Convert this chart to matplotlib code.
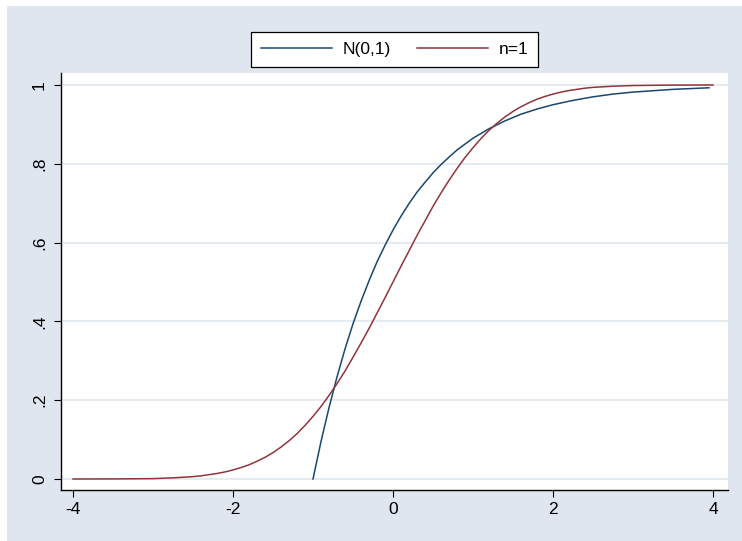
import matplotlib
matplotlib.use("Agg")
from matplotlib import pyplot as plt
from matplotlib.patches import Rectangle

plt.rcParams["font.family"] = ["Liberation Sans", "DejaVu Sans"]

# N(0,1) curve
x_norm = [-1.0, -0.9, -0.8, -0.7, -0.6, -0.5, -0.4, -0.3, -0.2, -0.1, 0.0,
          0.1, 0.2, 0.3, 0.4, 0.5, 0.6, 0.7, 0.8, 0.9, 1.0, 1.2, 1.4, 1.6, 1.8,
          2.0, 2.25, 2.5, 2.75, 3.0, 3.5, 3.95]
y_norm = [0.0, 0.095, 0.181, 0.259, 0.330, 0.394, 0.451, 0.503, 0.551, 0.593, 0.632,
          0.667, 0.699, 0.728, 0.753, 0.777, 0.798, 0.817, 0.835, 0.850, 0.865, 0.889,
          0.909, 0.926, 0.939, 0.950, 0.961, 0.970, 0.977, 0.982, 0.989, 0.993]

# n=1 curve
x_n1 = [-4.0, -3.5, -3.25, -3.0, -2.75, -2.5, -2.4, -2.3, -2.2, -2.1, -2.0, -1.9, -1.8,
        -1.7, -1.6, -1.5, -1.4, -1.3, -1.2, -1.1, -1.0, -0.9, -0.8, -0.7, -0.6, -0.5,
        -0.4, -0.3, -0.2, -0.1, 0.0, 0.1, 0.2, 0.3, 0.4, 0.5, 0.6, 0.7, 0.8, 0.9, 1.0,
        1.1, 1.2, 1.3, 1.4, 1.5, 1.6, 1.7, 1.8, 1.9, 2.0, 2.1, 2.2, 2.3, 2.4, 2.5,
        2.75, 3.0, 3.5, 4.0]
y_n1 = [0.0, 0.0002, 0.0006, 0.001, 0.003, 0.006, 0.008, 0.011, 0.014, 0.018, 0.023, 0.029,
        0.036, 0.045, 0.055, 0.067, 0.081, 0.097, 0.115, 0.136, 0.159, 0.184, 0.212, 0.242,
        0.274, 0.309, 0.345, 0.382, 0.421, 0.460, 0.5, 0.540, 0.579, 0.618, 0.655, 0.692,
        0.726, 0.758, 0.788, 0.816, 0.841, 0.864, 0.885, 0.903, 0.919, 0.933, 0.945, 0.955,
        0.964, 0.971, 0.977, 0.982, 0.986, 0.989, 0.992, 0.994, 0.997, 0.9987, 0.9998, 1.0]

x_ticks = [-4, -2, 0, 2, 4]
y_ticks = [0, 0.2, 0.4, 0.6, 0.8, 1.0]
y_ticklabels = ["0", ".2", ".4", ".6", ".8", "1"]

W, H = 742, 541
fig = plt.figure(figsize=(W / 100, H / 100), dpi=100, facecolor="white")
bg = "#DFE6F0"
fig.patches.append(Rectangle((7 / W, 0), 1 - 7 / W, 1 - 6 / H, transform=fig.transFigure,
                             facecolor=bg, edgecolor="none", zorder=-10))

ax = fig.add_axes([61 / W, (H - 490) / H, (728 - 61) / W, (490 - 73) / H])
ax.set_facecolor("white")

ax.plot(x_norm, y_norm, color="#1A476F", linewidth=1.1, label="N(0,1)")
ax.plot(x_n1, y_n1, color="#90353B", linewidth=1.1, label="n=1")

ax.set_xlim(-4.15, 4.1875)
ax.set_ylim(-0.0279, 1.0305)

ax.set_xticks(x_ticks)
ax.set_xticklabels([str(t) for t in x_ticks])
ax.set_yticks(y_ticks)
ax.set_yticklabels(y_ticklabels, rotation=90, va="center")

ax.grid(axis="y", color="#E1E7EF", linewidth=1.2)
ax.set_axisbelow(True)

for s in ["top", "right"]:
    ax.spines[s].set_visible(False)
for s in ["left", "bottom"]:
    ax.spines[s].set_color("black")
    ax.spines[s].set_linewidth(1.0)

ax.tick_params(direction="out", length=5, width=0.8, colors="black", labelsize=12.5)
ax.tick_params(axis="y", pad=5)

leg = ax.legend(loc="center", bbox_to_anchor=(394.5 / W, 1 - 49.5 / H), bbox_transform=fig.transFigure,
                ncol=2, fontsize=12.5, frameon=True, fancybox=False, handlelength=4.1,
                handletextpad=0.6, columnspacing=1.5, borderpad=0.55)
leg.get_frame().set_edgecolor("black")
leg.get_frame().set_linewidth(0.9)
leg.get_frame().set_facecolor("white")
leg.get_frame().set_alpha(1)

fig.savefig("out.png", dpi=100, facecolor=fig.get_facecolor())
